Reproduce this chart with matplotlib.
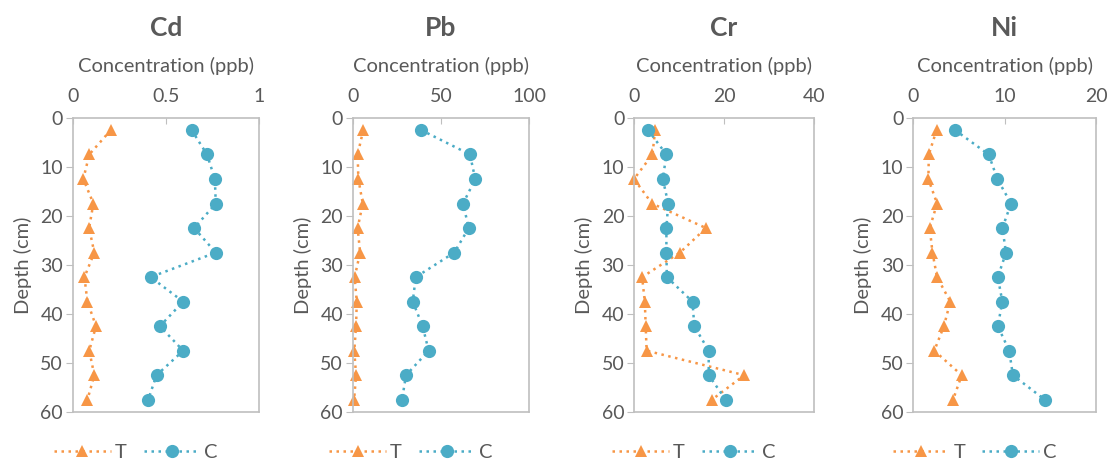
import matplotlib
matplotlib.use("Agg")
import matplotlib.pyplot as plt

plt.rcParams['font.family'] = ['Lato', 'DejaVu Sans']

depth = [2.5, 7.5, 12.5, 17.5, 22.5, 27.5, 32.5, 37.5, 42.5, 47.5, 52.5, 57.5]

metals = ["Cd", "Pb", "Cr", "Ni"]
xmax = [1, 100, 40, 20]
xticks = [[0, 0.5, 1], [0, 50, 100], [0, 20, 40], [0, 10, 20]]
xticklabels = [["0", "0.5", "1"], ["0", "50", "100"], ["0", "20", "40"], ["0", "10", "20"]]

cd_t = [0.205, 0.089, 0.057, 0.111, 0.088, 0.116, 0.063, 0.079, 0.125, 0.089, 0.116, 0.079]
cd_c = [0.638, 0.721, 0.763, 0.768, 0.652, 0.768, 0.418, 0.593, 0.468, 0.593, 0.450, 0.405]
pb_t = [6.0, 2.8, 3.2, 5.7, 2.8, 4.2, 1.1, 2.3, 1.9, 0.9, 1.9, 0.8]
pb_c = [38.7, 66.4, 69.4, 62.5, 65.7, 57.5, 35.7, 34.0, 39.6, 43.0, 30.2, 27.9]
cr_t = [4.7, 4.1, 0.0, 4.0, 16.0, 10.2, 1.8, 2.4, 2.6, 2.8, 24.5, 17.3]
cr_c = [3.1, 7.2, 6.4, 7.6, 7.2, 7.2, 7.3, 13.0, 13.4, 16.6, 16.6, 20.4]
ni_t = [2.55, 1.7, 1.65, 2.6, 1.8, 2.1, 2.6, 4.05, 3.35, 2.3, 5.3, 4.35]
ni_c = [4.55, 8.25, 9.2, 10.7, 9.75, 10.15, 9.25, 9.75, 9.25, 10.5, 10.9, 14.4]

t_vals = [cd_t, pb_t, cr_t, ni_t]
c_vals = [cd_c, pb_c, cr_c, ni_c]

orange = "#F79646"
blue = "#4BACC6"
txt = "#595959"
grid = "#BFBFBF"

W, H = 1107, 459
fig = plt.figure(figsize=(W / 100, H / 100), dpi=100)

# axes pixel boxes (left, right) ; top/bottom shared
boxes = [(72.7, 259), (352.7, 529.3), (634, 814), (913.3, 1096)]
top, bot = 117.7, 412

for i, name in enumerate(metals):
    l, r = boxes[i]
    ax = fig.add_axes([l / W, 1 - bot / H, (r - l) / W, (bot - top) / H])
    dots = (0, (1, 1.8))
    ax.plot(t_vals[i], depth, color=orange, lw=1.8, linestyle=dots,
            marker="^", markersize=9, markeredgewidth=0, label="T", clip_on=False)
    ax.plot(c_vals[i], depth, color=blue, lw=1.8, linestyle=dots,
            marker="o", markersize=9.5, markeredgewidth=0, label="C", clip_on=False)
    ax.set_xlim(0, xmax[i])
    ax.set_ylim(60, 0)
    ax.set_yticks([0, 10, 20, 30, 40, 50, 60])
    ax.set_xticks(xticks[i])
    ax.set_xticklabels(xticklabels[i])
    ax.xaxis.tick_top()
    ax.xaxis.set_label_position("top")
    ax.set_xlabel("Concentration (ppb)", color=txt, fontsize=14.5, labelpad=12)
    ax.set_ylabel("Depth (cm)", color=txt, fontsize=14.5, labelpad=6)
    ax.tick_params(axis="x", direction="in", length=4, color=grid, labelcolor=txt,
                   labelsize=14, pad=9)
    ax.tick_params(axis="y", direction="out", length=5, color=grid, labelcolor=txt,
                   labelsize=14, pad=2)
    for s in ax.spines.values():
        s.set_color(grid)
        s.set_linewidth(1.2)

    cx = (l + r) / 2
    fig.text(cx / W, 1 - 28 / H, name, ha="center", va="center",
             fontsize=19, fontweight="bold", color=txt)
    fig.legend(*ax.get_legend_handles_labels(), loc="center",
               bbox_to_anchor=((cx - 30) / W, 1 - 452 / H), ncol=2,
               frameon=False, handlelength=2.8, handletextpad=0.2,
               columnspacing=0.85, fontsize=14.5, labelcolor=txt)

fig.savefig("out.png", dpi=100)
